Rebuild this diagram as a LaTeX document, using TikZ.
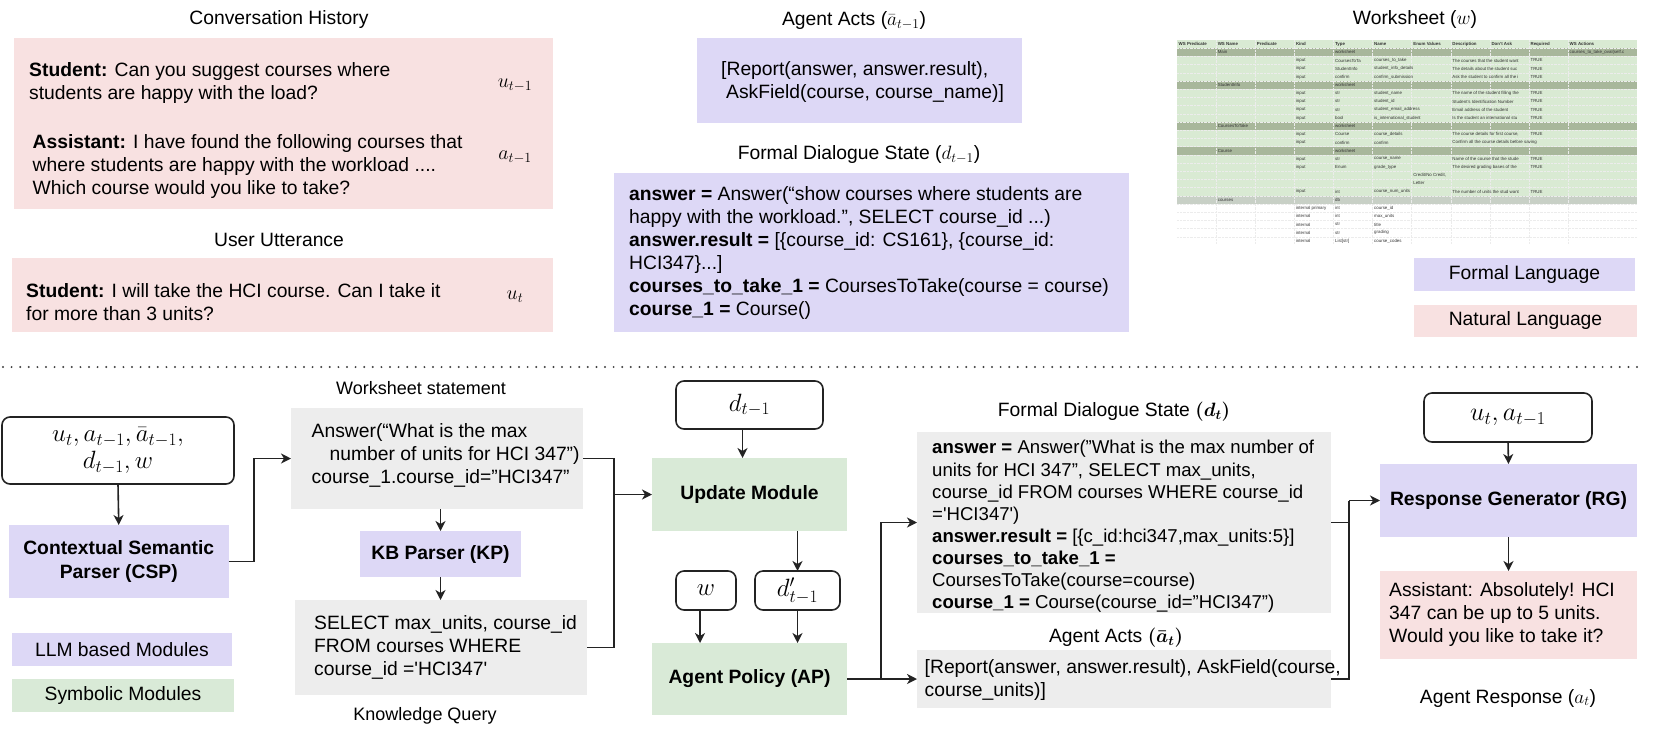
\RequirePackage{fix-cm}
\documentclass[tikz,border=0pt]{standalone}
\usepackage{fontspec}
\setmainfont{Liberation Sans}
\usetikzlibrary{arrows.meta,calc}
\definecolor{lav}{RGB}{221,216,246}
\definecolor{pinkc}{RGB}{248,225,225}
\definecolor{greenc}{RGB}{217,234,215}
\definecolor{grayc}{RGB}{237,237,237}
\definecolor{wslight}{RGB}{217,234,211}
\definecolor{wsdark}{RGB}{168,183,155}
\definecolor{wsgray}{RGB}{200,208,198}
\definecolor{ink}{RGB}{35,35,35}
\newcommand{\wsc}[3]{\node[wscell] (c#1r#2) at ({1178.5+39.1*#1},{40+8.2*#2+4.1}) {#3};}
\begin{document}
\begin{tikzpicture}[x=1pt,y=-1pt,
  tx/.style={font=\fontsize{19.3}{23}\selectfont, inner sep=0pt, align=left, anchor=west},
  ttl/.style={font=\fontsize{19.3}{23}\selectfont, inner sep=0pt},
  bx/.style={rectangle, inner sep=0pt, outer sep=0pt, draw=none, align=center, font=\fontsize{19.3}{24}\selectfont\bfseries},
  rb/.style={rectangle, rounded corners=8pt, draw=ink, line width=1.6pt, inner sep=0pt, outer sep=0pt, font=\fontsize{25}{25}\selectfont, align=center},
  arr/.style={-{Stealth[length=10pt,width=10pt,inset=3pt]}, line width=1.6pt, draw=ink},
  ln/.style={line width=1.6pt, draw=ink},
  mth/.style={font=\fontsize{20}{20}\selectfont, inner sep=0pt},
  wscell/.style={anchor=west, inner sep=0pt, font=\fontsize{4.4}{5}\selectfont, text=black!80},
  wsgrid/.style={white!85!gray, line width=0.3pt, dash pattern=on 0.6pt off 0.8pt}]
\useasboundingbox (0,0) rectangle (1661,734);

% ---------------- top: conversation history ----------------
\node[ttl] (tch) at (279,20) {Conversation History};
\node[bx, fill=pinkc, minimum width=539pt, minimum height=171pt] (chist) at (283.5,123.5) {};
\node[tx] (s1) at (29,83) {\textbf{Student:} Can you suggest courses where\\students are happy with the load?};
\node[mth] (m1) at (515,85) {$u_{t-1}$};
\node[tx] (a1) at (32.5,167) {\textbf{Assistant:} I have found the following courses that\\where students are happy with the workload ....\\Which course would you like to take?};
\node[mth] (m2) at (515,157) {$a_{t-1}$};

\node[ttl] (tuu) at (279,240) {User Utterance};
\node[bx, fill=pinkc, minimum width=541pt, minimum height=74pt] (uu) at (282.5,295) {};
\node[tx] (s2) at (26,302) {\textbf{Student:} I will take the HCI course. Can I take it\\for more than 3 units?};
\node[mth] (m3) at (515,297) {$u_{t}$};

% ---------------- top: agent acts / state ----------------
\node[ttl] (taa) at (854,21) {Agent Acts ($\bar{a}_{t-1}$)};
\node[bx, fill=lav, minimum width=325pt, minimum height=85pt] (aaprev) at (859.5,80.5) {};
\node[tx] (aatx) at (721,82) {[Report(answer, answer.result),\\\hspace*{5pt}AskField(course, course\_name)]};

\node[ttl] (tfds) at (859,155) {Formal Dialogue State ($d_{t-1}$)};
\node[bx, fill=lav, minimum width=515pt, minimum height=159pt] (fdsprev) at (871.5,252.5) {};
\node[tx] (fdstx) at (629,252.5) {\textbf{answer =} Answer(“show courses where students are\\happy with the workload.", SELECT course\_id ...)\\\textbf{answer.result =} [\{course\_id: CS161\}, \{course\_id:\\HCI347\}...]\\\textbf{courses\_to\_take\_1 =} CoursesToTake(course = course)\\\textbf{course\_1 =} Course()};

% ---------------- top: worksheet ----------------
\node[ttl] (tws) at (1415,20) {Worksheet ($w$)};
\begin{scope}
\clip (1177,40) rectangle (1637,244);
\fill[wslight] (1177,40) rectangle (1637,{40+8.2*19});
\foreach \r in {1,5,10,13} \fill[wsdark] (1177,{40+8.2*\r}) rectangle (1637,{40+8.2*(\r+1)});
\fill[wsgray] (1177,{40+8.2*19}) rectangle (1637,{40+8.2*20});
\foreach \r in {1,...,24} \draw[wsgrid] (1177,{40+8.2*\r}) -- (1637,{40+8.2*\r});
\foreach \c in {1,...,10} \draw[wsgrid] ({1177+39.1*\c},40) -- ({1177+39.1*\c},244);
\wsc{0}{0}{\bfseries WS Predicate}\wsc{1}{0}{\bfseries WS Name}\wsc{2}{0}{\bfseries Predicate}\wsc{3}{0}{\bfseries Kind}
\wsc{4}{0}{\bfseries Type}\wsc{5}{0}{\bfseries Name}\wsc{6}{0}{\bfseries Enum Values}\wsc{7}{0}{\bfseries Description}
\wsc{8}{0}{\bfseries Don't Ask}\wsc{9}{0}{\bfseries Required}\wsc{10}{0}{\bfseries WS Actions}
\wsc{1}{1}{Main}\wsc{4}{1}{worksheet}\wsc{10}{1}{courses\_to\_take\_oval(self.c}
\wsc{3}{2}{input}\wsc{4}{2}{CoursesToTa}\wsc{5}{2}{courses\_to\_take}\wsc{7}{2}{The courses that the student want}\wsc{9}{2}{TRUE}
\wsc{3}{3}{input}\wsc{4}{3}{StudentInfo}\wsc{5}{3}{student\_info\_details}\wsc{7}{3}{The details about the student suc}\wsc{9}{3}{TRUE}
\wsc{3}{4}{input}\wsc{4}{4}{confirm}\wsc{5}{4}{confirm\_submission}\wsc{7}{4}{Ask the student to confirm all the i}\wsc{9}{4}{TRUE}
\wsc{1}{5}{StudentInfo}\wsc{4}{5}{worksheet}
\wsc{3}{6}{input}\wsc{4}{6}{str}\wsc{5}{6}{student\_name}\wsc{7}{6}{The name of the student filling the}\wsc{9}{6}{TRUE}
\wsc{3}{7}{input}\wsc{4}{7}{str}\wsc{5}{7}{student\_id}\wsc{7}{7}{Student's Identification Number}\wsc{9}{7}{TRUE}
\wsc{3}{8}{input}\wsc{4}{8}{str}\wsc{5}{8}{student\_email\_address}\wsc{7}{8}{Email address of the student}\wsc{9}{8}{TRUE}
\wsc{3}{9}{input}\wsc{4}{9}{bool}\wsc{5}{9}{is\_international\_student}\wsc{7}{9}{Is the student an international stu}\wsc{9}{9}{TRUE}
\wsc{1}{10}{CoursesToTake}\wsc{4}{10}{worksheet}
\wsc{3}{11}{input}\wsc{4}{11}{Course}\wsc{5}{11}{course\_details}\wsc{7}{11}{The course details for first course,}\wsc{9}{11}{TRUE}
\wsc{3}{12}{input}\wsc{4}{12}{confirm}\wsc{5}{12}{confirm}\wsc{7}{12}{Confirm all the course details before saving}
\wsc{1}{13}{Course}\wsc{4}{13}{worksheet}
\wsc{3}{14}{input}\wsc{4}{14}{str}\wsc{5}{14}{course\_name}\wsc{7}{14}{Name of the course that the stude}\wsc{9}{14}{TRUE}
\wsc{3}{15}{input}\wsc{4}{15}{Enum}\wsc{5}{15}{grade\_type}\wsc{7}{15}{The desired grading bases of the}\wsc{9}{15}{TRUE}
\wsc{6}{16}{Credit/No Credit,}
\wsc{6}{17}{Letter}
\wsc{3}{18}{input}\wsc{4}{18}{int}\wsc{5}{18}{course\_num\_units}\wsc{7}{18}{The number of units the stud want}\wsc{9}{18}{TRUE}
\wsc{1}{19}{courses}\wsc{4}{19}{db}
\wsc{3}{20}{internal primary}\wsc{4}{20}{int}\wsc{5}{20}{course\_id}
\wsc{3}{21}{internal}\wsc{4}{21}{int}\wsc{5}{21}{max\_units}
\wsc{3}{22}{internal}\wsc{4}{22}{str}\wsc{5}{22}{title}
\wsc{3}{23}{internal}\wsc{4}{23}{str}\wsc{5}{23}{grading}
\wsc{3}{24}{internal}\wsc{4}{24}{List[str]}\wsc{5}{24}{course\_codes}
\end{scope}

\node[bx, fill=lav, minimum width=221pt, minimum height=33pt, font=\fontsize{19.3}{23}\selectfont] (lgf) at (1524.5,274.5) {Formal Language};
\node[bx, fill=pinkc, minimum width=223pt, minimum height=32pt, font=\fontsize{19.3}{23}\selectfont] (lgn) at (1525.5,321) {Natural Language};

% ---------------- separator ----------------
\coordinate (sepL) at (3,367);
\coordinate (sepR) at (1640,367);
\draw[line width=2.2pt, line cap=round, dash pattern=on 0pt off 8.6pt, black!75] (sepL) -- (sepR);

% ---------------- bottom: left ----------------
\node[rb, minimum width=232pt, minimum height=67pt] (inp) at (118,450.5) {$u_t, a_{t-1}, \bar{a}_{t-1},$\\[2pt]$d_{t-1}, w$};
\node[bx, fill=lav, minimum width=219.5pt, minimum height=73pt] (csp) at (118.75,561.5) {Contextual Semantic\\Parser (CSP)};
\node[bx, fill=lav, minimum width=220pt, minimum height=33pt, font=\fontsize{19.3}{23}\selectfont] (lgl) at (122,649.5) {LLM based Modules};
\node[bx, fill=greenc, minimum width=222pt, minimum height=33pt, font=\fontsize{19.3}{23}\selectfont] (lgs) at (123,695.5) {Symbolic Modules};

\node[ttl, font=\fontsize{18}{22}\selectfont] (twst) at (421,388) {Worksheet statement};
\node[bx, fill=grayc, minimum width=292pt, minimum height=101pt] (wsb) at (437,458.5) {};
\node[tx] (wstx) at (311.5,455.5) {Answer(“What is the max\\\hspace*{18pt}number of units for HCI 347”)\\course\_1.course\_id="HCI347"};
\node[bx, fill=lav, minimum width=161pt, minimum height=46pt] (kp) at (440.5,554) {KB Parser (KP)};
\node[bx, fill=grayc, minimum width=292.4pt, minimum height=95pt] (kq) at (440.8,647.5) {};
\node[tx] (kqtx) at (314,647) {SELECT max\_units, course\_id\\FROM courses WHERE\\course\_id =\textquotesingle HCI347\textquotesingle};
\node[ttl, font=\fontsize{18}{22}\selectfont] (tkq) at (425,716) {Knowledge Query};

% ---------------- bottom: middle ----------------
\node[rb, minimum width=147pt, minimum height=48pt] (dprev) at (749.5,405) {$d_{t-1}$};
\node[bx, fill=greenc, minimum width=195pt, minimum height=73pt] (um) at (749.5,494.5) {Update Module};
\node[rb, minimum width=60pt, minimum height=39pt] (wn) at (706,590.5) {$w$};
\node[rb, minimum width=85pt, minimum height=39pt] (dp) at (797.5,590.5) {$d'_{t-1}$};
\node[bx, fill=greenc, minimum width=195pt, minimum height=72pt] (ap) at (749.5,679) {Agent Policy (AP)};

\node[ttl] (tfdsn) at (1114,412) {Formal Dialogue State {\boldmath$(d_t)$}};
\node[bx, fill=grayc, minimum width=414pt, minimum height=181pt] (fds) at (1124,522.5) {};
\node[tx, font=\fontsize{18.6}{22.1}\selectfont] (fdsntx) at (932,526.5) {\textbf{answer =} Answer("What is the max number of\\units for HCI 347", SELECT max\_units,\\course\_id FROM courses WHERE course\_id\\=\textquotesingle HCI347\textquotesingle)\\\textbf{answer.result =} [\{c\_id:hci347,max\_units:5\}]\\\textbf{courses\_to\_take\_1 =}\\CoursesToTake(course=course)\\\textbf{course\_1 =} Course(course\_id="HCI347")};
\node[ttl] (taan) at (1116,638) {Agent Acts {\boldmath$(\bar{a}_t)$}};
\node[bx, fill=grayc, minimum width=414pt, minimum height=58pt] (aa) at (1124,679) {};
\node[tx] (aantx) at (924.5,679.5) {[Report(answer, answer.result), AskField(course,\\course\_units)]};

% ---------------- bottom: right ----------------
\node[rb, minimum width=168pt, minimum height=49pt, font=\fontsize{26}{26}\selectfont] (ua) at (1508,417.5) {$u_t, a_{t-1}$};
\node[bx, fill=lav, minimum width=257pt, minimum height=73pt] (rg) at (1508.5,500.5) {Response Generator (RG)};
\node[bx, fill=pinkc, minimum width=257pt, minimum height=88pt] (resp) at (1508.5,615) {};
\node[tx] (resptx) at (1389,614.5) {Assistant: Absolutely! HCI\\347 can be up to 5 units.\\Would you like to take it?};
\node[ttl] (tar) at (1508,698) {Agent Response ($a_t$)};

% ---------------- connectors ----------------
\draw[arr] (inp.south) -- (csp.north);
\draw[arr] (csp.east) -- ++(25.5,0) |- (wsb.west);
\draw[arr] (kp.north |- wsb.south) -- (kp.north);
\draw[arr] (kp.south) -- (kp.south |- kq.north);
\coordinate (bxl) at (614,494.5);
\draw[ln] (wsb.east) -- (wsb.east -| bxl) -- (kq.east -| bxl) -- (kq.east);
\draw[arr] (bxl) -- (um.west);
\draw[arr] ([xshift=-7pt]dprev.south) -- ([xshift=-7pt]dprev.south |- um.north);
\draw[arr] (dp.north |- um.south) -- (dp.north);
\draw[arr] ([xshift=-6pt]wn.south) -- ([xshift=-6pt]wn.south |- ap.north);
\draw[arr] (dp.south) -- (dp.south |- ap.north);
\coordinate (bxm) at (881,679);
\draw[arr] (ap.east) -- (aa.west);
\draw[arr] (bxm) |- (fds.west);
\coordinate (bxr) at (1349,500.5);
\draw[ln] (fds.east) -- (fds.east -| bxr);
\draw[ln] (aa.east) -- (aa.east -| bxr) -- (bxr);
\draw[arr] (bxr) -- (rg.west);
\draw[arr] (ua.south) -- (rg.north);
\draw[arr] (rg.south) -- (resp.north);
\end{tikzpicture}
\end{document}
